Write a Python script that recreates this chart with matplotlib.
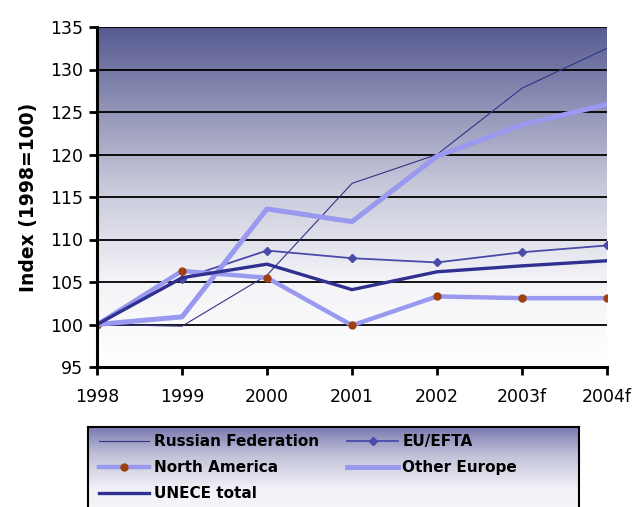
import numpy as np
import matplotlib
matplotlib.use("Agg")
import matplotlib.pyplot as plt
from matplotlib.colors import LinearSegmentedColormap

years = ["1998", "1999", "2000", "2001", "2002", "2003f", "2004f"]
russia = [100.0, 99.8, 105.8, 116.6, 120.0, 127.8, 132.5]
eu_efta = [100.0, 105.4, 108.7, 107.8, 107.3, 108.5, 109.3]
north_america = [100.0, 106.3, 105.5, 99.9, 103.3, 103.1, 103.1]
other_europe = [100.0, 100.9, 113.6, 112.1, 119.8, 123.5, 125.9]
unece_total = [100.0, 105.5, 107.1, 104.1, 106.2, 106.9, 107.5]
yticks = [95, 100, 105, 110, 115, 120, 125, 130, 135]

fig = plt.figure(figsize=(6.36, 5.07), dpi=100)
ax = fig.add_axes([97/636, 140/507, 510/636, 340/507])

x = np.arange(len(years))
# gradient background
cmap_bg = LinearSegmentedColormap.from_list("bg", [(0.0, "#ffffff"), (0.25, "#f4f4f8"), (0.55, "#c4c5d8"), (1.0, "#575b91")])
grad = np.linspace(0, 1, 256).reshape(-1, 1)
ax.imshow(grad, aspect="auto", cmap=cmap_bg, origin="lower",
          extent=[0, len(years) - 1, 95, 135], zorder=0)

for yv in yticks[1:]:
    ax.axhline(yv, color="black", lw=1.3, zorder=1)

h_ru, = ax.plot(x, russia, color="#333388", lw=0.8, zorder=3, label="Russian Federation")
h_eu, = ax.plot(x, eu_efta, color="#4a4aa8", lw=1.3, marker="D", ms=4, zorder=3, label="EU/EFTA")
h_na, = ax.plot(x, north_america, color="#9999f0", lw=3.2, marker="o", ms=5,
                markerfacecolor="#a0400f", markeredgecolor="#a0400f", zorder=4, label="North America")
h_oe, = ax.plot(x, other_europe, color="#9999f0", lw=3.6, zorder=4, label="Other Europe")
h_un, = ax.plot(x, unece_total, color="#303090", lw=2.4, zorder=5, label="UNECE total")

ax.set_xlim(0, len(years) - 1)
ax.set_ylim(95, 135)
ax.set_xticks(x)
ax.set_xticklabels(years)
ax.set_yticks(yticks)
for s in ["top", "right"]:
    ax.spines[s].set_visible(False)
for s in ["left", "bottom"]:
    ax.spines[s].set_linewidth(2.2)
    ax.spines[s].set_zorder(6)
ax.tick_params(axis="both", direction="out", length=6, width=2, labelsize=12.5)
ax.tick_params(axis="x", pad=9)
ax.tick_params(axis="y", pad=4)
for lab in ax.get_xticklabels() + ax.get_yticklabels():
    lab.set_fontfamily("DejaVu Sans")
ax.set_ylabel("Index (1998=100)", fontsize=13.5, fontweight="bold", labelpad=9)

# legend box with gradient
lax = fig.add_axes([88/636, -30/507, 491/636, 110/507])
cmap_lg = LinearSegmentedColormap.from_list("lg", [(0.0, "#ffffff"), (0.45, "#f0f0f6"), (0.75, "#c0c0d8"), (1.0, "#7a7ab0")])
lax.imshow(grad, aspect="auto", cmap=cmap_lg, origin="lower", extent=[0, 1, 0, 1])
lax.set_xlim(0, 1)
lax.set_ylim(0, 1)
lax.set_xticks([])
lax.set_yticks([])
for s in lax.spines.values():
    s.set_linewidth(1.5)

handles = [h_ru, h_na, h_un, h_eu, h_oe]
leg = fig.legend(handles, [h.get_label() for h in handles],
                 ncol=2, loc="upper left", bbox_to_anchor=(99/636, 1 - 434/507),
                 frameon=False, prop={"weight": "bold", "size": 11},
                 handlelength=3.3, columnspacing=1.85, labelspacing=0.72,
                 handletextpad=0.3, borderaxespad=0, borderpad=0)

fig.savefig("out.png", dpi=100)
